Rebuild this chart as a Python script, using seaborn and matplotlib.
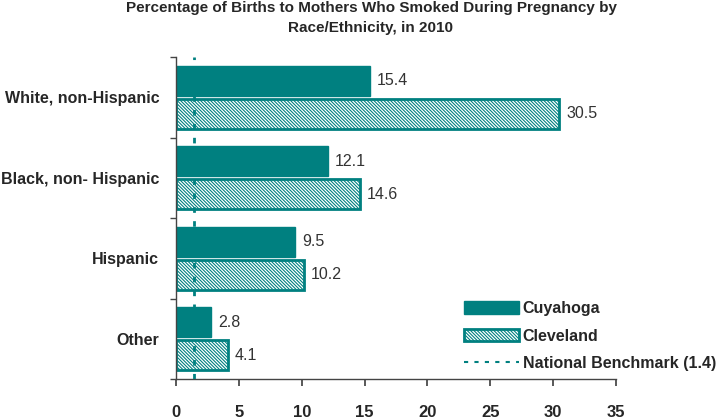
import matplotlib
matplotlib.use("Agg")
import matplotlib.pyplot as plt
import seaborn as sns
import pandas as pd
from matplotlib.patches import Patch
from matplotlib.lines import Line2D

categories = ["White, non-Hispanic", "Black, non- Hispanic", "Hispanic", "Other"]
cuyahoga = [15.4, 12.1, 9.5, 2.8]
cleveland = [30.5, 14.6, 10.2, 4.1]
benchmark = 1.4
series = ["Cuyahoga", "Cleveland"]
xticks = [0, 5, 10, 15, 20, 25, 30, 35]

TEAL = "#008080"
HATCH = "\\" * 10
sns.set_theme(style="white")
plt.rcParams["font.family"] = ["Liberation Sans", "DejaVu Sans"]
plt.rcParams["hatch.color"] = "#72b2b2"
plt.rcParams["hatch.linewidth"] = 0.8

df = pd.DataFrame({
    "cat": categories * 2,
    "val": cuyahoga + cleveland,
    "series": [series[0]] * 4 + [series[1]] * 4,
})

fig = plt.figure(figsize=(7.19, 4.2), dpi=100)
ax = fig.add_axes([176 / 719, 1 - 379 / 420, 440 / 719, 322 / 420])

sns.barplot(data=df, y="cat", x="val", hue="series", orient="h",
            palette=[TEAL, "white"], width=0.82, gap=0.1, ax=ax,
            legend=False, saturation=1)

containers = ax.containers
for bar in containers[0]:
    bar.set_facecolor(TEAL)
    bar.set_edgecolor(TEAL)
for bar in containers[1]:
    bar.set_facecolor("white")
    bar.set_edgecolor(TEAL)
    bar.set_linewidth(2)
    bar.set_hatch(HATCH)

for cont, vals in zip(containers, [cuyahoga, cleveland]):
    ax.bar_label(cont, labels=[f"{v:.1f}" for v in vals], padding=5,
                 fontsize=11.5, color="#333333")

ax.axvline(benchmark, color=TEAL, linestyle=(0, (2, 3)), linewidth=2, zorder=5)

ax.set_xlim(0, 35)
ax.set_ylim(3.5, -0.5)
ax.set_xticks(xticks)
ax.set_xticklabels([str(t) for t in xticks], fontweight="bold", fontsize=12)
ax.set_yticks(range(4))
ax.set_yticklabels(categories, fontweight="bold", fontsize=11.5)
ax.set_yticks([-0.5, 0.5, 1.5, 2.5, 3.5], minor=True)
ax.tick_params(axis="y", which="major", length=0, pad=12)
ax.tick_params(axis="y", which="minor", length=4, direction="out", left=True, color="#444444")
ax.tick_params(axis="x", which="major", length=5, direction="out", bottom=True,
               pad=14, color="#444444")
ax.set_xlabel("")
ax.set_ylabel("")
for s in ["top", "right"]:
    ax.spines[s].set_visible(False)
for s in ["left", "bottom"]:
    ax.spines[s].set_color("#444444")
    ax.spines[s].set_linewidth(1)

fig.text(371 / 719, 1 - 18 / 420,
         "Percentage of Births to Mothers Who Smoked During Pregnancy by\nRace/Ethnicity, in 2010",
         ha="center", va="center", fontweight="bold", fontsize=11, linespacing=1.5)

handles = [
    Patch(facecolor=TEAL, edgecolor=TEAL, label="Cuyahoga"),
    Patch(facecolor="white", edgecolor=TEAL, linewidth=2, hatch=HATCH, label="Cleveland"),
    Line2D([0], [0], color=TEAL, linestyle=(0, (2, 3)), linewidth=1.5,
           label="National Benchmark (1.4)"),
]
leg = fig.legend(handles=handles, loc="lower right",
                 bbox_to_anchor=(716 / 719, 1 - 371 / 420), frameon=False,
                 borderaxespad=0, borderpad=0,
                 prop={"weight": "bold", "size": 11.5}, handlelength=3.4,
                 handleheight=0.8, handletextpad=0.25, labelspacing=0.78)

fig.savefig("out.png", dpi=100)
